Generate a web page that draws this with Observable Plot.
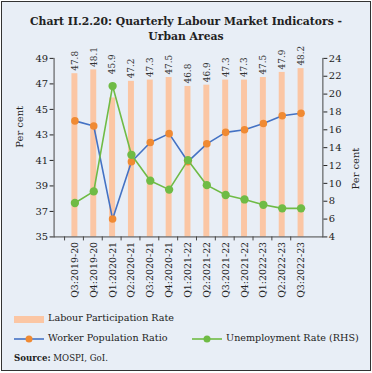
<!DOCTYPE html>
<html><head><meta charset="utf-8">
<script src="https://cdn.jsdelivr.net/npm/d3@7"></script>
<script src="https://cdn.jsdelivr.net/npm/@observablehq/plot@0.6"></script>
<style>
body{margin:0;background:#fff;}
#wrap{position:relative;width:368px;height:368px;margin:1px;border:1.5px solid #333;background:#e8eef6;font-family:"DejaVu Serif",serif;overflow:hidden;}
#title{position:absolute;left:0;top:12px;width:368px;text-align:center;font-weight:bold;font-size:10.8px;line-height:15px;color:#222;}
#chart{position:absolute;left:-1px;top:43px;}
.leg{position:absolute;font-size:9.6px;color:#222;white-space:nowrap;}
</style></head>
<body><div id="wrap"><div id="title">Chart II.2.20: Quarterly Labour Market Indicators -<br>Urban Areas</div><div id="chart"></div>
<div class="leg" style="left:12px;top:310px;"><svg width="31" height="10" style="vertical-align:middle"><rect x="0" y="2" width="30" height="7" fill="#fbc6a4"/></svg> Labour Participation Rate</div>
<div class="leg" style="left:12px;top:330px;"><svg width="31" height="10" style="vertical-align:middle"><line x1="0" x2="30" y1="5" y2="5" stroke="#4472c4" stroke-width="1.6"/><circle cx="15" cy="5" r="3.5" fill="#f08a33"/></svg> Worker Population Ratio</div>
<div class="leg" style="left:190px;top:330px;"><svg width="31" height="10" style="vertical-align:middle"><line x1="0" x2="30" y1="5" y2="5" stroke="#6fbb45" stroke-width="1.6"/><circle cx="15" cy="5" r="3.5" fill="#6fbb45"/></svg> Unemployment Rate (RHS)</div>
<div class="leg" style="left:12px;top:351px;font-size:8.6px;"><b>Source:</b> MOSPI, GoI.</div>
</div>
<script>
const quarters = ["Q3:2019-20","Q4:2019-20","Q1:2020-21","Q2:2020-21","Q3:2020-21","Q4:2020-21","Q1:2021-22","Q2:2021-22","Q3:2021-22","Q4:2021-22","Q1:2022-23","Q2:2022-23","Q3:2022-23"];
const lpr = [47.8,48.1,45.9,47.2,47.3,47.5,46.8,46.9,47.3,47.3,47.5,47.9,48.2];
const wpr = [44.1,43.7,36.4,40.9,42.4,43.1,40.9,42.3,43.2,43.4,43.9,44.5,44.7];
const ur  = [7.8,9.1,20.9,13.2,10.3,9.3,12.6,9.8,8.7,8.2,7.6,7.2,7.2];
const leftTicks = [35,37,39,41,43,45,47,49];
const rightTicks = [4,6,8,10,12,14,16,18,20,22,24];

// map right axis (4..24) onto left axis (35..49)
const toLeft = v => 35 + (v - 4) * (14 / 20);
const toRight = v => Math.round(4 + (v - 35) * (20 / 14));
const data = quarters.map((q, i) => ({q, lpr: lpr[i], wpr: wpr[i], ur: ur[i], urL: toLeft(ur[i])}));

const W = 372, H = 259, ML = 53, MR = 48, MT = 13, MB = 66;
const step = (W - ML - MR) / quarters.length;

const plot = Plot.plot({
  width: W, height: H,
  marginTop: MT, marginBottom: MB, marginLeft: ML, marginRight: MR,
  style: {background: "transparent", fontFamily: "DejaVu Serif", fontSize: "9.5px", color: "#222"},
  x: {domain: quarters, padding: 0.66, axis: null},
  y: {domain: [35, 49], axis: null},
  marks: [
    Plot.barY(data, {x: "q", y1: 35, y2: "lpr", fill: "#fbc6a4"}),
    // label sits above the bar, or above the RHS dot where that dot rises past the bar
    Plot.text(data, {x: "q", y: d => Math.max(d.lpr, d.urL + 0.7), text: d => d.lpr.toFixed(1), rotate: -90, textAnchor: "start", dy: -3, fontSize: 9, fill: "#333"}),
    Plot.line(data, {x: "q", y: "wpr", stroke: "#4472c4", strokeWidth: 1.6}),
    Plot.dot(data, {x: "q", y: "wpr", r: 3.8, fill: "#f08a33"}),
    Plot.line(data, {x: "q", y: "urL", stroke: "#6fbb45", strokeWidth: 1.6}),
    Plot.dot(data, {x: "q", y: "urL", r: 4.2, fill: "#6fbb45"}),
    Plot.axisY(leftTicks, {anchor: "left", tickSize: 4, tickPadding: 2, fontSize: 10, label: null}),
    Plot.axisY(rightTicks.map(toLeft), {anchor: "right", tickSize: 4, tickPadding: 2, fontSize: 10, tickFormat: v => toRight(v), label: null}),
    // tick marks at category boundaries
    Plot.ruleX(quarters, {x: d => d, y1: 35, y2: 35, insetBottom: -4, dx: -step / 2, stroke: "#444"}),
    Plot.axisX({anchor: "bottom", tickSize: 0, tickRotate: -90, tickPadding: 5, fontSize: 9.5, label: null}),
    Plot.frame({anchor: "left", stroke: "#444"}),
    Plot.frame({anchor: "right", stroke: "#444"}),
    Plot.frame({anchor: "bottom", stroke: "#444"}),
    Plot.text(["Per cent"], {frameAnchor: "left", dx: -35, rotate: -90, fontSize: 10}),
    Plot.text(["Per cent"], {frameAnchor: "right", dx: 33, rotate: -90, fontSize: 10})
  ]
});
document.getElementById("chart").appendChild(plot);
</script>
</body></html>
